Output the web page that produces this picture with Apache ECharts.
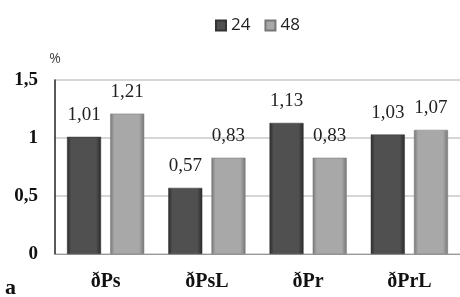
<!DOCTYPE html>
<html><head><meta charset="utf-8">
<script src="https://cdn.jsdelivr.net/npm/echarts@6/dist/echarts.min.js"></script>
<style>html,body{margin:0;padding:0;background:#fff}#c{width:460px;height:297px}</style>
</head><body><div id="c"></div>
<script>
const categories = ['ðPs', 'ðPsL', 'ðPr', 'ðPrL'];
const seriesNames = ['24', '48'];
const values24 = [1.01, 0.57, 1.13, 1.03];
const values48 = [1.21, 0.83, 0.83, 1.07];
const yTicks = [0, 0.5, 1, 1.5];

function grad(edge, mid) {
  return new echarts.graphic.LinearGradient(0, 0, 1, 0, [
    {offset: 0, color: edge}, {offset: 0.12, color: mid}, {offset: 0.5, color: mid},
    {offset: 0.85, color: mid}, {offset: 1, color: edge}
  ]);
}
const fmt = v => String(v).replace('.', ',');
const chart = echarts.init(document.getElementById('c'));
chart.setOption({
  animation: false,
  legend: {
    top: 12, left: 210, itemWidth: 10, itemHeight: 10, itemGap: 14,
    textStyle: {fontFamily: 'Open Sans', fontSize: 17, color: '#222'},
    data: [{name: '24', icon: 'rect'}, {name: '48', icon: 'rect'}]
  },
  grid: {left: 55, right: 0, top: 80, bottom: 43},
  xAxis: {
    type: 'category', data: categories,
    axisLine: {show: true, lineStyle: {color: '#999', width: 1}},
    axisTick: {show: false},
    axisLabel: {fontFamily: 'Liberation Serif', fontWeight: 'bold', fontSize: 20, color: '#111', margin: 18}
  },
  yAxis: {
    type: 'value', min: 0, max: 1.5, interval: 0.5,
    name: '%', nameLocation: 'end', nameGap: 14,
    nameTextStyle: {fontFamily: 'Open Sans', fontSize: 14, color: '#444', align: 'center'},
    axisLine: {show: true, lineStyle: {color: '#222', width: 1.5}},
    axisTick: {show: false},
    splitLine: {lineStyle: {color: '#c8c8c8', width: 1.5}},
    axisLabel: {fontFamily: 'Liberation Serif', fontWeight: 'bold', fontSize: 19, color: '#111', margin: 17,
      formatter: v => yTicks.includes(v) ? fmt(v) : ''}
  },
  series: [
    {name: seriesNames[0], type: 'bar', data: values24, barWidth: 34, barGap: '27%',
     itemStyle: {color: grad('#2a2a2a', '#505050'), borderColor: '#333', borderWidth: 0.5},
     label: {show: true, position: 'top', distance: 12, formatter: p => fmt(p.value),
       fontFamily: 'Liberation Serif', fontSize: 19, color: '#222'}},
    {name: seriesNames[1], type: 'bar', data: values48, barWidth: 34,
     itemStyle: {color: grad('#777', '#a8a8a8'), borderColor: '#777', borderWidth: 0.5},
     label: {show: true, position: 'top', distance: 12, formatter: p => fmt(p.value),
       fontFamily: 'Liberation Serif', fontSize: 19, color: '#222'}}
  ],
  graphic: [{type: 'text', left: 5, top: 277, style: {text: 'a', font: 'bold 22px "Liberation Serif"', fill: '#111'}}]
});
</script></body></html>
